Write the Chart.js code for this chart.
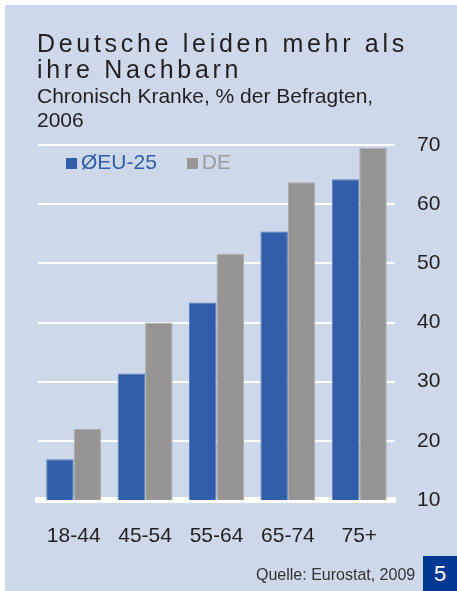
<!DOCTYPE html>
<html>
<head>
<meta charset="utf-8">
<script src="https://cdn.jsdelivr.net/npm/chart.js@4/dist/chart.umd.min.js"></script>
<style>
  body { margin: 0; background: #ffffff; font-family: "Liberation Sans", Arial, sans-serif; }
  #panel { position: absolute; left: 5px; top: 5px; width: 452px; height: 586px; background: #cdd8ea; }
  #chart { position: absolute; left: 0; top: 0; }
  .txt { position: absolute; color: #231f20; white-space: nowrap; }
  #title { left: 37px; top: 30px; font-size: 25px; line-height: 26px; letter-spacing: 3.7px; }
  #subtitle { left: 37px; top: 84px; font-size: 21px; line-height: 24px; }
  #legend { left: 66px; top: 150px; font-size: 21px; line-height: 24px; }
  #legend span.sq { display: inline-block; width: 11px; height: 11px; margin-right: 4px; vertical-align: 0px; }
  #legend span.item { margin-right: 30px; }
  #source { left: 256px; top: 566px; font-size: 16px; line-height: 18px; color: #333333; }
  #pagebox { position: absolute; left: 423px; top: 556px; width: 34px; height: 35px; background: #003893;
             color: #ffffff; font-size: 22px; line-height: 35px; text-align: center; }
</style>
</head>
<body>
<div id="panel"></div>
<canvas id="chart" width="457" height="591"></canvas>
<div class="txt" id="title">Deutsche leiden mehr als<br>ihre Nachbarn</div>
<div class="txt" id="subtitle">Chronisch Kranke, % der Befragten,<br>2006</div>
<div class="txt" id="legend"></div>
<div class="txt" id="source">Quelle: Eurostat, 2009</div>
<div id="pagebox">5</div>
<script>
// age groups on the x axis
var ageGroups = ['18-44', '45-54', '55-64', '65-74', '75+'];
// chronically ill, % of respondents
var euValues = [16.9, 31.4, 43.4, 55.4, 64.2];
var deValues = [22.0, 40.0, 51.6, 63.7, 69.5];
var seriesNames = ['ØEU-25', 'DE'];
var yTicks = [10, 20, 30, 40, 50, 60, 70];

var barColors = ['#305ea8', '#969593'];
var barEdges = ['#5a7dbc', '#aeadab'];
var legendTextColors = ['#305ea8', '#9c9c9c'];

// legend sits inside the plot, drawn as html
var legendDiv = document.getElementById('legend');
seriesNames.forEach(function(name, i) {
    legendDiv.innerHTML += '<span class="item" style="color:' + legendTextColors[i] + '">' +
        '<span class="sq" style="background:' + barColors[i] + '"></span>' + name + '</span>';
});

var ctx = document.getElementById('chart').getContext('2d');
var chart = new Chart(ctx, {
    type: 'bar',
    data: {
        labels: ageGroups,
        datasets: [{
            label: seriesNames[0],
            data: euValues,
            backgroundColor: barColors[0],
            borderColor: barEdges[0],
            borderWidth: 1
        }, {
            label: seriesNames[1],
            data: deValues,
            backgroundColor: barColors[1],
            borderColor: barEdges[1],
            borderWidth: 1
        }]
    },
    options: {
        responsive: false,
        animation: false,
        layout: { padding: { left: 38, top: 145, right: 0, bottom: 0 } },
        plugins: { legend: { display: false }, title: { display: false }, tooltip: { enabled: false } },
        datasets: { bar: { categoryPercentage: 0.77, barPercentage: 1.0 } },
        scales: {
            x: {
                z: 1,
                grid: { display: false },
                border: { display: true, color: '#ffffff', width: 6 },
                ticks: {
                    color: '#231f20',
                    font: { family: 'Liberation Sans', size: 21 },
                    padding: 16,
                    maxRotation: 0
                },
                afterFit: function(scale) { scale.height = 91; }
            },
            y: {
                position: 'right',
                min: yTicks[0],
                max: yTicks[yTicks.length - 1],
                border: { display: false },
                grid: {
                    color: '#ffffff',
                    lineWidth: 2,
                    drawTicks: false
                },
                ticks: {
                    stepSize: 10,
                    color: '#231f20',
                    font: { family: 'Liberation Sans', size: 21 },
                    padding: 22
                },
                afterBuildTicks: function(scale) {
                    scale.ticks = yTicks.map(function(v) { return { value: v }; });
                },
                afterFit: function(scale) { scale.width = 62; }
            }
        }
    }
});
</script>
</body>
</html>
